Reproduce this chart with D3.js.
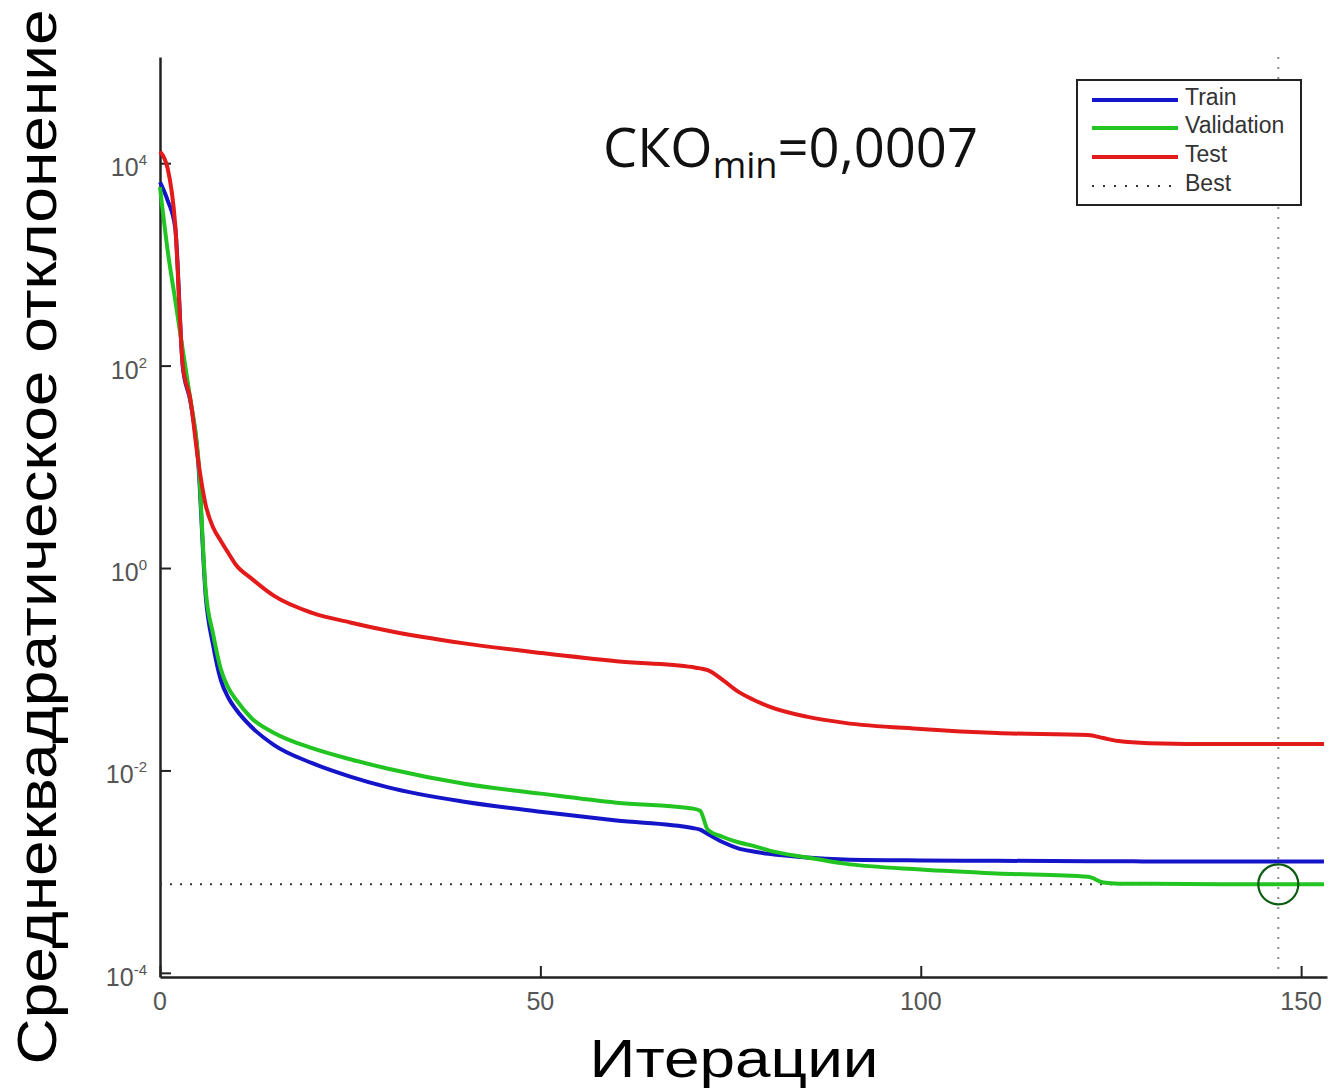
<!DOCTYPE html>
<html>
<head>
<meta charset="utf-8">
<script src="https://cdn.jsdelivr.net/npm/d3@7"></script>
<style>
  html, body { margin: 0; padding: 0; background: #fff; }
  svg { display: block; }
</style>
</head>
<body>
<div id="chart"></div>
<script>
const iterations = [0, 1, 2, 3, 4, 5, 6, 7, 8, 9, 10, 12, 15, 20, 25, 30, 40, 50, 60, 70, 71, 72, 74, 76, 78, 80, 85, 90, 100, 110, 122, 124, 126, 130, 140, 147, 153];

const trainMSE = [6500, 4300, 2300, 97, 44, 11.8, 0.54, 0.17, 0.078, 0.052, 0.040, 0.027, 0.0178, 0.0118, 0.0087, 0.0068, 0.0049, 0.0039, 0.0032, 0.0027, 0.0026, 0.00235, 0.00195, 0.0017, 0.00158, 0.0015, 0.00138, 0.00132, 0.00129, 0.00128, 0.00127, 0.00127, 0.00127, 0.00126, 0.00126, 0.00126, 0.00126];

const validationMSE = [5800, 1380, 445, 142, 46, 13.1, 0.61, 0.22, 0.10, 0.065, 0.050, 0.033, 0.0235, 0.0166, 0.0129, 0.0104, 0.0074, 0.0059, 0.0048, 0.0042, 0.0040, 0.0026, 0.0022, 0.00195, 0.0018, 0.00162, 0.00138, 0.00120, 0.00105, 0.00096, 0.00089, 0.00078, 0.00076, 0.00076, 0.00075, 0.00075, 0.00075];

const testMSE = [13000, 8900, 2450, 100, 46, 11.8, 4.2, 2.5, 1.85, 1.4, 1.07, 0.79, 0.53, 0.36, 0.29, 0.24, 0.18, 0.145, 0.12, 0.105, 0.102, 0.098, 0.078, 0.060, 0.050, 0.043, 0.034, 0.0295, 0.0257, 0.0234, 0.0224, 0.0209, 0.0195, 0.0186, 0.0182, 0.0182, 0.0182];

const bestEpoch = 147;
const bestValue = 0.00075;

const xTicks = [0, 50, 100, 150];
const yTickExponents = [-4, -2, 0, 2, 4];

const seriesNames = ['Train', 'Validation', 'Test', 'Best'];
const seriesColors = ['#1414c8', '#22c422', '#e31a1a', '#333'];

const yLabel = 'Среднеквадратическое отклонение';
const xLabel = 'Итерации';

const width = 1331, height = 1091;
const svg = d3.select('#chart').append('svg')
  .attr('width', width)
  .attr('height', height)
  .style('background', '#fff');

const x = d3.scaleLinear().domain([0, 153.4]).range([160, 1327]);
const y = d3.scaleLog().domain([9.1e-5, 1.12e5]).range([977, 57]);

const tickFont = '"Liberation Sans", Arial, Helvetica, sans-serif';

// axes with inward ticks, MATLAB style
const xAxis = d3.axisBottom(x).tickValues(xTicks).tickSizeInner(-11).tickSizeOuter(0).tickFormat('');
const yAxis = d3.axisLeft(y).tickValues(yTickExponents.map(e => Math.pow(10, e))).tickSizeInner(-11).tickSizeOuter(0).tickFormat('');

const gx = svg.append('g').attr('transform', `translate(0,${y.range()[0]})`).call(xAxis);
const gy = svg.append('g').attr('transform', `translate(${x(0)},0)`).call(yAxis);
[gx, gy].forEach(g => {
  g.select('.domain').attr('stroke', '#222').attr('stroke-width', 2.5);
  g.selectAll('.tick line').attr('stroke', '#222').attr('stroke-width', 2);
});

// x tick labels
svg.append('g').selectAll('text')
  .data(xTicks)
  .enter().append('text')
  .attr('x', d => x(d))
  .attr('y', 1010)
  .attr('text-anchor', 'middle')
  .attr('font-family', tickFont)
  .attr('font-size', 25)
  .attr('fill', '#555')
  .text(d => d);

// y tick labels 10^n
const yl = svg.append('g').selectAll('text')
  .data(yTickExponents)
  .enter().append('text')
  .attr('x', 147)
  .attr('y', d => y(Math.pow(10, d)) + 13)
  .attr('text-anchor', 'end')
  .attr('font-family', tickFont)
  .attr('font-size', 25)
  .attr('fill', '#555');
yl.append('tspan').text('10');
yl.append('tspan').attr('font-size', 15).attr('dy', -11).text(d => d);

// best markers (dotted)
svg.append('line')
  .attr('x1', x(bestEpoch)).attr('x2', x(bestEpoch))
  .attr('y1', y.range()[1]).attr('y2', y.range()[0])
  .attr('stroke', '#888').attr('stroke-width', 2)
  .attr('stroke-dasharray', '2,8');
svg.append('line')
  .attr('x1', x(0)).attr('x2', x.range()[1])
  .attr('y1', y(bestValue)).attr('y2', y(bestValue))
  .attr('stroke', '#333').attr('stroke-width', 2)
  .attr('stroke-dasharray', '2,8');

// curves
const line = d3.line()
  .x(d => x(d[0]))
  .y(d => y(d[1]))
  .curve(d3.curveMonotoneX);

[trainMSE, validationMSE, testMSE].forEach((vals, i) => {
  svg.append('path')
    .datum(iterations.map((it, k) => [it, vals[k]]))
    .attr('d', line)
    .attr('fill', 'none')
    .attr('stroke', seriesColors[i])
    .attr('stroke-width', 4)
    .attr('stroke-linejoin', 'round');
});

// best validation circle
svg.append('circle')
  .attr('cx', x(bestEpoch))
  .attr('cy', y(bestValue))
  .attr('r', 20)
  .attr('fill', 'none')
  .attr('stroke', '#0d5c12')
  .attr('stroke-width', 2.2);

// legend
const legend = svg.append('g');
legend.append('rect')
  .attr('x', 1077).attr('y', 80)
  .attr('width', 224).attr('height', 125)
  .attr('fill', '#fff')
  .attr('stroke', '#222').attr('stroke-width', 2);
const rowY = [100, 128, 157, 186];
seriesNames.forEach((name, i) => {
  legend.append('line')
    .attr('x1', 1092).attr('x2', 1178)
    .attr('y1', rowY[i]).attr('y2', rowY[i])
    .attr('stroke', seriesColors[i])
    .attr('stroke-width', i < 3 ? 4 : 2)
    .attr('stroke-dasharray', i < 3 ? null : '2,9');
  legend.append('text')
    .attr('x', 1185).attr('y', rowY[i] + 5)
    .attr('font-family', tickFont)
    .attr('font-size', 23)
    .attr('fill', '#333')
    .text(name);
});

// annotation СКО_min
const note = svg.append('text').attr('x', 603).attr('y', 167)
  .attr('font-family', '"Open Sans", "Noto Sans", sans-serif')
  .attr('font-size', 54)
  .attr('textLength', 375).attr('lengthAdjust', 'spacingAndGlyphs')
  .attr('fill', '#111');
note.append('tspan').text('СКО');
note.append('tspan').attr('font-size', 36).attr('dy', 11).text('min');
note.append('tspan').attr('dy', -11).text('=0,0007');

// axis titles
svg.append('text')
  .attr('transform', 'translate(56,537) rotate(-90)')
  .attr('text-anchor', 'middle')
  .attr('font-family', tickFont)
  .attr('font-size', 56)
  .attr('textLength', 1055).attr('lengthAdjust', 'spacingAndGlyphs')
  .attr('fill', '#000')
  .text(yLabel);

svg.append('text')
  .attr('x', 734).attr('y', 1077)
  .attr('text-anchor', 'middle')
  .attr('font-family', tickFont)
  .attr('font-size', 54)
  .attr('textLength', 289).attr('lengthAdjust', 'spacingAndGlyphs')
  .attr('fill', '#000')
  .text(xLabel);
</script>
</body>
</html>
